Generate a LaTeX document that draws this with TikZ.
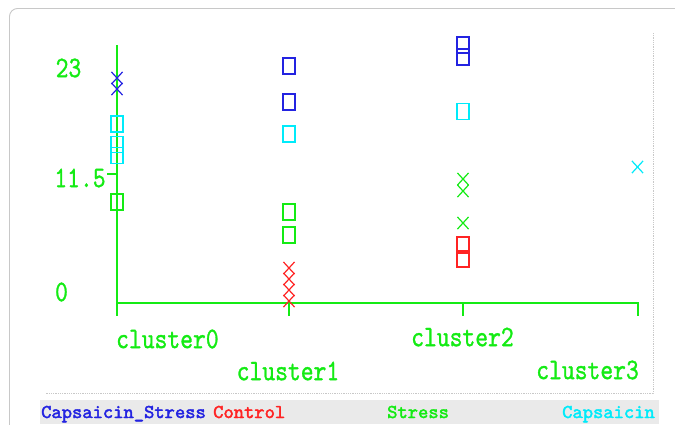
\documentclass[tikz,border=0pt]{standalone}
\usepackage{fontspec}
\usepackage{graphicx}
\newfontfamily\axfont[FakeBold=1.2]{lmmono10-regular.otf}
\newfontfamily\legfont[FakeBold=2.2]{lmmono10-regular.otf}
\usetikzlibrary{shapes.misc}
\definecolor{pgreen}{RGB}{20,235,20}
\definecolor{pblue}{RGB}{35,35,225}
\definecolor{pcyan}{RGB}{0,235,250}
\definecolor{pred}{RGB}{255,35,35}
\definecolor{framegray}{RGB}{200,200,200}
\definecolor{bandgray}{RGB}{234,234,234}
\newcommand{\talltext}[1]{\scalebox{1}[1.22]{#1}}
\begin{document}
\begin{tikzpicture}[x=1pt,y=-1pt,
  axisline/.style={draw=pgreen, line width=1.8pt},
  axislab/.style={text=pgreen, font=\axfont\fontsize{24.4}{24.4}\selectfont, inner sep=0},
  sq/.style={draw, rectangle, minimum width=12pt, minimum height=16pt, inner sep=0, line width=1.5pt},
  xm/.style={draw, cross out, minimum width=10pt, minimum height=11pt, inner sep=0, line width=1.2pt},
  leg/.style={font=\legfont\fontsize{19.6}{19.6}\selectfont, inner sep=0, anchor=base west},
  guide/.style={draw=framegray, densely dotted, line width=0.8pt}]
\useasboundingbox (0,0) rectangle (675,424);
% frame and background pieces
\draw[framegray, line width=0.9pt, rounded corners=8pt] (9.5,8.5) rectangle (700,450);
\fill[bandgray] (40,400) rectangle (659,424);
\coordinate (gTop) at (653,33);
\coordinate (gCorner) at (653,393);
\coordinate (gLeft) at (46,393);
\draw[guide] (gTop) -- (gCorner) -- (gLeft);
% axes
\coordinate (yTop) at (117,45);
\coordinate (O) at (117,303);
\coordinate (O0) at (117,316);
\coordinate (xEnd) at (638,303);
\coordinate (xEndT) at (638,316);
\coordinate (t1a) at (289,303);
\coordinate (t1b) at (289,316);
\coordinate (t2a) at (463,303);
\coordinate (t2b) at (463,316);
\coordinate (ytA) at (107,174);
\coordinate (ytB) at (117,174);
\draw[axisline] (yTop) -- (O0);
\draw[axisline] (O) -- (xEnd) -- (xEndT);
\draw[axisline] (t1a) -- (t1b);
\draw[axisline] (t2a) -- (t2b);
\draw[axisline, line width=1.4pt] (ytA) -- (ytB);
% y labels
\node[axislab] (y23) at (68.5,68) {\talltext{23}};
\node[axislab] (y115) at (80,178) {\talltext{11.5}};
\node[axislab] (y0) at (61.5,292) {\talltext{0}};
% cluster labels
\node[axislab, anchor=west] (c0) at (116,339) {\talltext{cluster0}};
\node[axislab] (c1) at (288,371) {\talltext{cluster1}};
\node[axislab] (c2) at (462.5,337) {\talltext{cluster2}};
\node[axislab, anchor=east] (c3) at (639,370) {\talltext{cluster3}};
% cluster0 markers
\node[xm, pblue] (a1) at (117,78) {};
\node[xm, pblue] (a2) at (117,89) {};
\node[sq, pcyan] (a3) at (117,124) {};
\node[sq, pcyan] (a4) at (117,144.5) {};
\node[sq, pcyan] (a5) at (117,155.5) {};
\node[sq, pgreen] (a6) at (117,202) {};
% cluster1 markers
\node[sq, pblue] (b1) at (289,66) {};
\node[sq, pblue] (b2) at (289,102) {};
\node[sq, pcyan] (b3) at (289,134) {};
\node[sq, pgreen] (b4) at (289,212) {};
\node[sq, pgreen] (b5) at (289,235) {};
\node[xm, pred] (b6) at (289,268) {};
\node[xm, pred] (b7) at (289,279) {};
\node[xm, pred] (b8) at (289,290) {};
\node[xm, pred] (b9) at (289,301) {};
% cluster2 markers
\node[sq, pblue] (d1) at (463,45) {};
\node[sq, pblue] (d2) at (463,57) {};
\node[sq, pcyan] (d3) at (463,111.5) {};
\node[xm, pgreen] (d4) at (463,179) {};
\node[xm, pgreen] (d5) at (463,191) {};
\node[xm, pgreen] (d6) at (463,223) {};
\node[sq, pred] (d7) at (463,245) {};
\node[sq, pred] (d8) at (463,259) {};
% cluster3 marker
\node[xm, pcyan] (e1) at (637.5,167) {};
% legend
\node[leg, text=pblue] (l1) at (41,418) {Capsaicin\_Stress};
\node[leg, text=pred] (l2) at (213,418) {Control};
\node[leg, text=pgreen] (l3) at (387,418) {Stress};
\node[leg, text=pcyan] (l4) at (562,418) {Capsaicin};
\end{tikzpicture}
\end{document}
